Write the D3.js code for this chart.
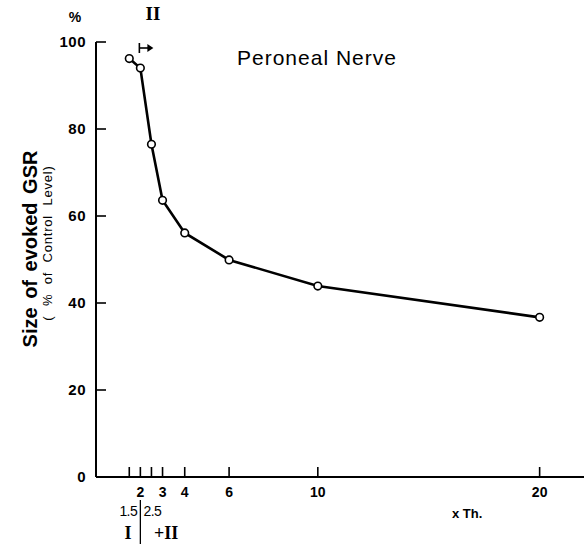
<!DOCTYPE html>
<html>
<head>
<meta charset="utf-8">
<script src="https://cdn.jsdelivr.net/npm/d3@7"></script>
<style>
  body { margin: 0; background: #fff; }
  svg text { font-family: "Liberation Sans", Arial, sans-serif; fill: #000; }
  .roman { font-family: "Liberation Serif", serif; font-weight: bold; }
</style>
</head>
<body>
<div class="chart"></div>
<script>
// stimulus strength (x threshold) and evoked GSR size (% of control)
var strength   = [1.5, 2, 2.5, 3, 4, 6, 10, 20];
var gsrSize    = [96.2, 94.0, 76.5, 63.6, 56.1, 49.9, 43.9, 36.7];

var xTicks     = [1.5, 2, 2.5, 3, 4, 6, 10, 20];
var xLabelsTop = [2, 3, 4, 6, 10, 20];
var xLabelsLow = [1.5, 2.5];
var yTicks     = [0, 20, 40, 60, 80, 100];

var width  = 587,
    height = 544;

var x = d3.scaleLinear().domain([0, 22]).range([96, 584]);
var y = d3.scaleLinear().domain([0, 100]).range([477, 42]);

var svg = d3.select(".chart")
            .append("svg")
            .attr("width", width)
            .attr("height", height);

// axes: lines plus inward ticks
svg.append("line")
   .attr("x1", x(0)).attr("x2", x(22))
   .attr("y1", y(0)).attr("y2", y(0))
   .attr("stroke", "#000").attr("stroke-width", 2);

svg.append("line")
   .attr("x1", x(0)).attr("x2", x(0))
   .attr("y1", y(0)).attr("y2", y(100))
   .attr("stroke", "#000").attr("stroke-width", 2);

svg.selectAll(".xtick")
   .data(xTicks)
   .enter()
   .append("line")
   .attr("class", "xtick")
   .attr("x1", function(d) { return x(d); })
   .attr("x2", function(d) { return x(d); })
   .attr("y1", y(0))
   .attr("y2", y(0) - 10)
   .attr("stroke", "#000").attr("stroke-width", 1.6);

svg.selectAll(".ytick")
   .data(yTicks.slice(1))
   .enter()
   .append("line")
   .attr("class", "ytick")
   .attr("x1", x(0))
   .attr("x2", x(0) + 10)
   .attr("y1", function(d) { return y(d); })
   .attr("y2", function(d) { return y(d); })
   .attr("stroke", "#000").attr("stroke-width", 1.6);

svg.selectAll(".ylab")
   .data(yTicks)
   .enter()
   .append("text")
   .attr("class", "ylab")
   .attr("x", 86)
   .attr("y", function(d) { return y(d) + 5; })
   .attr("text-anchor", "end")
   .style("font-size", "15px")
   .style("font-weight", "bold")
   .style("letter-spacing", "0.5px")
   .text(function(d) { return d; });

svg.selectAll(".xlab")
   .data(xLabelsTop)
   .enter()
   .append("text")
   .attr("class", "xlab")
   .attr("x", function(d) { return x(d); })
   .attr("y", 497)
   .attr("text-anchor", "middle")
   .style("font-size", "14px")
   .style("font-weight", "bold")
   .text(function(d) { return d; });

svg.selectAll(".xlab2")
   .data(xLabelsLow)
   .enter()
   .append("text")
   .attr("class", "xlab2")
   .attr("x", function(d, i) { return x(d) + (i ? 1 : -1); })
   .attr("y", 516)
   .attr("text-anchor", "middle")
   .style("font-size", "14px")
   .style("letter-spacing", "-0.6px")
   .text(function(d) { return d; });

svg.append("text")
   .attr("x", 452).attr("y", 518)
   .style("font-size", "13px")
   .style("font-weight", "bold")
   .text("x Th.");

// phase markers below the axis
svg.append("line")
   .attr("x1", x(2)).attr("x2", x(2))
   .attr("y1", 500).attr("y2", 544)
   .attr("stroke", "#000").attr("stroke-width", 1.3);

svg.append("text")
   .attr("class", "roman")
   .attr("x", 128).attr("y", 539)
   .attr("text-anchor", "middle")
   .style("font-size", "18px")
   .text("I");

svg.append("text")
   .attr("class", "roman")
   .attr("x", 154).attr("y", 539)
   .style("font-size", "18px")
   .text("+II");

// marker above plot: II starts at 2 x Th.
svg.append("text")
   .attr("class", "roman")
   .attr("x", 153).attr("y", 20)
   .attr("text-anchor", "middle")
   .style("font-size", "19px")
   .text("II");

svg.append("line")
   .attr("x1", x(2) - 1).attr("x2", x(2) - 1)
   .attr("y1", 43).attr("y2", 53)
   .attr("stroke", "#000").attr("stroke-width", 1.6);
svg.append("line")
   .attr("x1", x(2) - 1).attr("x2", x(2) + 9)
   .attr("y1", 48).attr("y2", 48)
   .attr("stroke", "#000").attr("stroke-width", 1.6);
svg.append("path")
   .attr("d", "M" + (x(2) + 13) + ",48 l-6,-4 l0,8 z")
   .attr("fill", "#000");

// titles
svg.append("text")
   .attr("x", 75).attr("y", 22)
   .attr("text-anchor", "middle")
   .style("font-size", "14px")
   .style("font-weight", "bold")
   .text("%");

svg.append("text")
   .attr("x", 237).attr("y", 65)
   .style("font-size", "21px")
   .style("letter-spacing", "1px")
   .text("Peroneal  Nerve");

svg.append("text")
   .attr("transform", "translate(37,249) rotate(-90)")
   .attr("text-anchor", "middle")
   .style("font-size", "20px")
   .style("font-weight", "bold")
   .style("word-spacing", "3px")
   .text("Size of evoked GSR");

svg.append("text")
   .attr("transform", "translate(52,243) rotate(-90)")
   .attr("text-anchor", "middle")
   .style("font-size", "13px")
   .style("letter-spacing", "0.8px")
   .style("word-spacing", "5px")
   .text("( % of Control Level)");

// data line and points
var pts = strength.map(function(d, i) { return [d, gsrSize[i]]; });

var line = d3.line()
             .x(function(d) { return x(d[0]); })
             .y(function(d) { return y(d[1]); });

svg.append("path")
   .datum(pts)
   .attr("d", line)
   .attr("fill", "none")
   .attr("stroke", "#000")
   .attr("stroke-width", 2.6);

svg.selectAll("circle")
   .data(pts)
   .enter()
   .append("circle")
   .attr("cx", function(d) { return x(d[0]); })
   .attr("cy", function(d) { return y(d[1]); })
   .attr("r", 3.8)
   .attr("fill", "#fff")
   .attr("stroke", "#000")
   .attr("stroke-width", 1.6);
</script>
</body>
</html>
